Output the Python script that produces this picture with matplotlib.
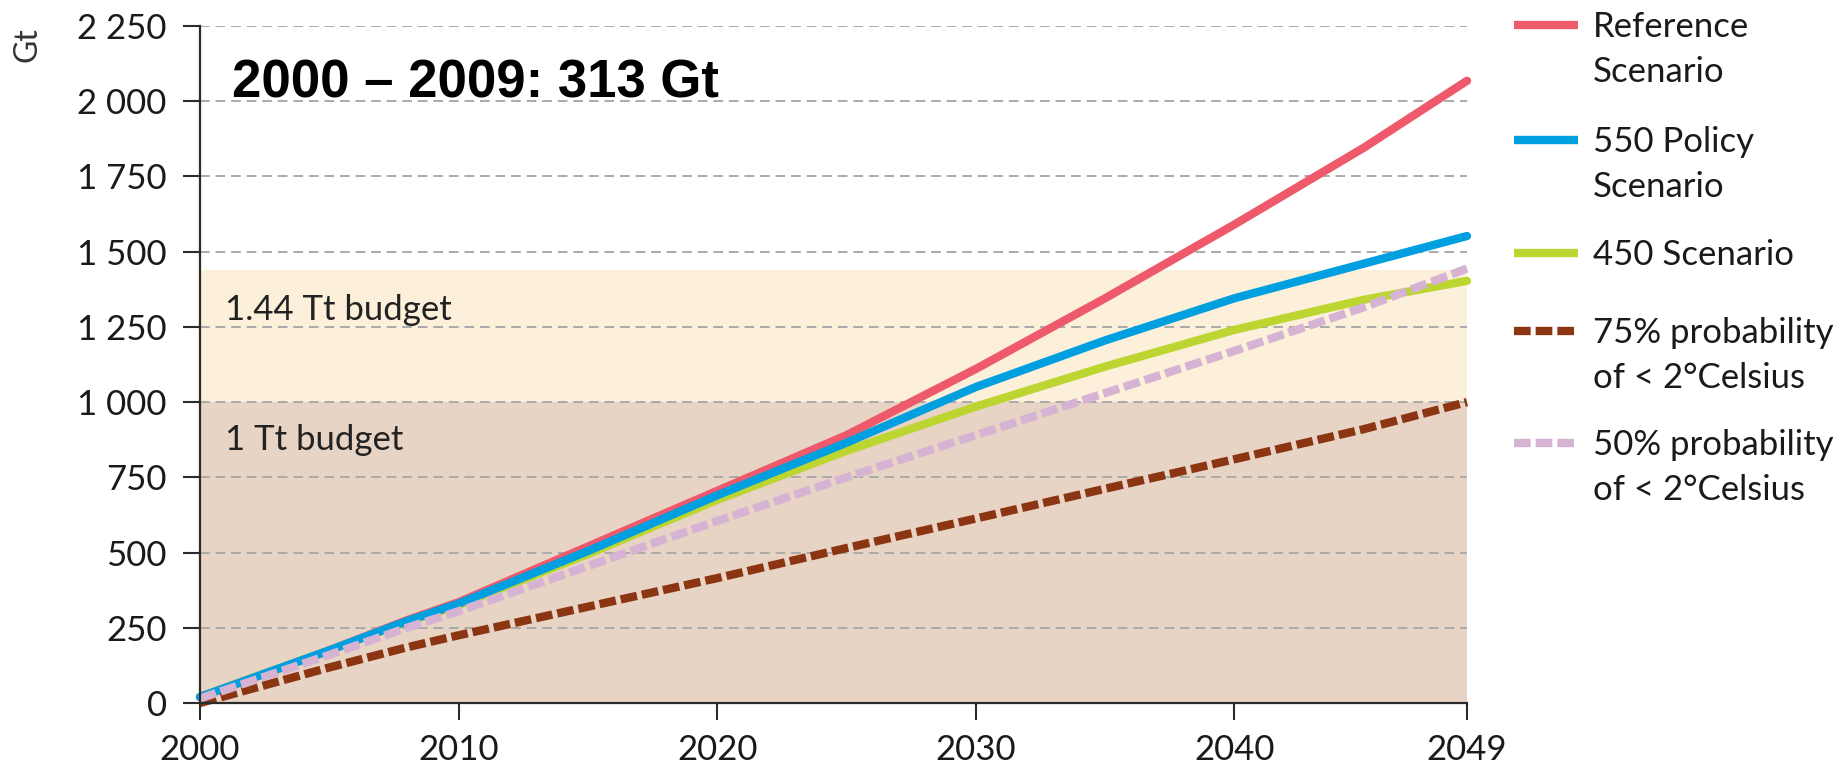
import matplotlib
matplotlib.use("Agg")
import matplotlib.pyplot as plt
from matplotlib.lines import Line2D
from matplotlib.ticker import FuncFormatter

# cumulative CO2 emissions, Gt
years = [2000, 2005, 2008, 2010, 2015, 2020, 2025, 2030, 2035, 2040, 2045, 2049]
reference = [20, 175, 275, 335, 520, 705, 890, 1110, 1345, 1590, 1845, 2068]
policy_550 = [20, 175, 272, 330, 505, 690, 865, 1050, 1205, 1345, 1460, 1552]
scen_450 = [20, 175, 270, 325, 495, 675, 838, 985, 1118, 1240, 1340, 1403]
prob_50 = [15, 160, 250, 305, 455, 605, 750, 890, 1030, 1170, 1315, 1444]
prob_75 = [0, 118, 185, 225, 320, 415, 515, 613, 712, 810, 910, 1000]

budget_1tt = 1000
budget_144tt = 1440

xticks = [2000, 2010, 2020, 2030, 2040, 2049]
yticks = [0, 250, 500, 750, 1000, 1250, 1500, 1750, 2000, 2250]

RED = "#ee5a6c"
BLUE = "#009fe0"
GREEN = "#bcd531"
BROWN = "#8b3512"
PINK = "#d7b3d3"
DARK = "#2b2b2b"

plt.rcParams['font.family'] = ['Lato', 'DejaVu Sans']

W, H = 1845, 769
fig = plt.figure(figsize=(W / 100, H / 100), dpi=100)
ax = fig.add_axes([200 / W, 1 - 703 / H, 1267 / W, 677 / H])

# budget bands
ax.axhspan(0, budget_1tt, color="#e8d4c5", lw=0, zorder=0)
ax.axhspan(budget_1tt, budget_144tt, color="#fdf0da", lw=0, zorder=0)

for y in yticks[1:]:
    ax.axhline(y, color="#aaaaaa", lw=1.4, ls=(0, (5, 3)), zorder=1)

lw = 6
ax.plot(years, reference, color=RED, lw=lw, solid_capstyle="round", solid_joinstyle="round",
        zorder=3, clip_on=False)
ax.plot(years, scen_450, color=GREEN, lw=lw, solid_capstyle="round", solid_joinstyle="round",
        zorder=4, clip_on=False)
ax.plot(years, policy_550, color=BLUE, lw=lw, solid_capstyle="round", solid_joinstyle="round",
        zorder=5, clip_on=False)
ax.plot(years, prob_75, color=BROWN, lw=lw, ls=(0, (2.0, 0.6)), zorder=6, clip_on=False)
ax.plot(years, prob_50, color=PINK, lw=lw, ls=(0, (2.0, 0.6)), zorder=7, clip_on=False)

ax.set_xlim(2000, 2049)
ax.set_ylim(0, 2250)
ax.set_xticks(xticks)
ax.set_yticks(yticks)
ax.yaxis.set_major_formatter(FuncFormatter(lambda v, p: "{:,}".format(int(v)).replace(",", " ")))

for s in ["top", "right"]:
    ax.spines[s].set_visible(False)
for s in ["left", "bottom"]:
    ax.spines[s].set_color(DARK)
    ax.spines[s].set_linewidth(1.6)
    ax.spines[s].set_zorder(8)

ax.tick_params(axis="both", length=12, width=1.5, color=DARK, labelsize=25, labelcolor="#1a1a1a")
ax.tick_params(axis="y", pad=12)
ax.tick_params(axis="x", pad=10)

ax.text(2000.97, 1273, "1.44 Tt budget", fontsize=25, color="#222222", va="baseline", zorder=2)
ax.text(2000.97, 841, "1 Tt budget", fontsize=25, color="#222222", va="baseline", zorder=2)

fig.text(232 / W, 1 - 97 / H, "2000 \u2013 2009: 313 Gt", fontsize=38, fontweight="bold",
         family=["Liberation Sans", "DejaVu Sans"], va="baseline", color="black")
fig.text(28 / W, 1 - 45 / H, "Gt", fontsize=23, rotation=90, ha="center", va="center", color="#333333")

# legend drawn by hand to match the two-line layout
legend = [
    ("Reference\nScenario", RED, "-", 37),
    ("550 Policy\nScenario", BLUE, "-", 152),
    ("450 Scenario", GREEN, "-", 265),
    ("75% probability\nof < 2\u00b0Celsius", BROWN, (0, (2.0, 0.6)), 343),
    ("50% probability\nof < 2\u00b0Celsius", PINK, (0, (2.0, 0.6)), 455),
]
for label, color, style, base in legend:
    yc = 1 - (base - 12) / H
    fig.add_artist(Line2D([1514 / W, 1578 / W], [yc, yc], color=color, lw=lw, ls=style,
                          solid_capstyle="butt", transform=fig.transFigure))
    for i, line in enumerate(label.split("\n")):
        fig.text(1593 / W, 1 - (base + 45 * i) / H, line, fontsize=25, va="baseline", color="#1a1a1a")

fig.savefig("out.png", dpi=100)
